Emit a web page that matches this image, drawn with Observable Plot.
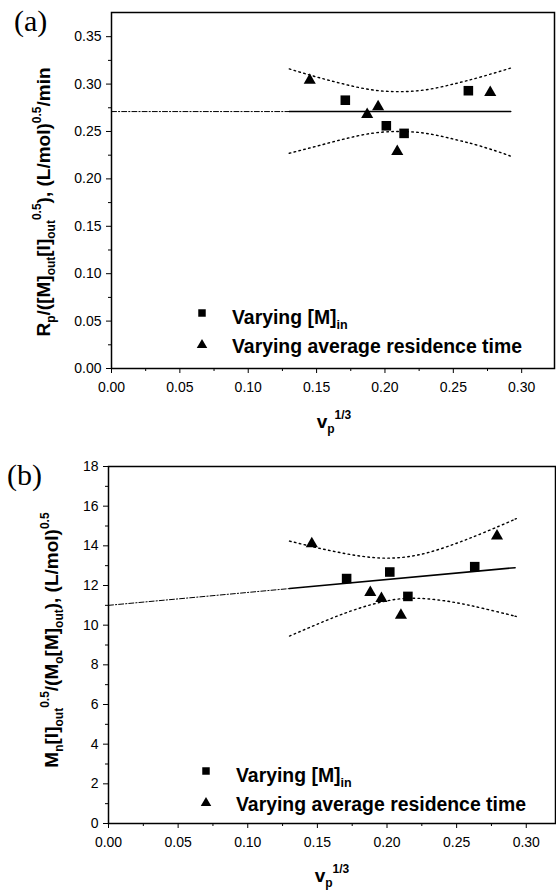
<!DOCTYPE html>
<html><head><meta charset="utf-8">
<script src="https://cdn.jsdelivr.net/npm/d3@7"></script>
<script src="https://cdn.jsdelivr.net/npm/@observablehq/plot@0.6"></script>
<style>
body{margin:0;background:#fff;}
#wrap{position:relative;width:556px;height:892px;overflow:hidden;background:#fff;}
.panel{position:absolute;left:0;}
</style></head><body>
<div id="wrap"><div id="pa" class="panel" style="top:0"></div><div id="pb" class="panel" style="top:440px"></div></div>
<script>
// ---- tick values ----
const xTicks = [0, 0.05, 0.10, 0.15, 0.20, 0.25, 0.30];
const xMinor = [0.025, 0.075, 0.125, 0.175, 0.225, 0.275];
const yTicksA = [0, 0.05, 0.10, 0.15, 0.20, 0.25, 0.30, 0.35];
const yMinorA = [0.025, 0.075, 0.125, 0.175, 0.225, 0.275, 0.325];
const yTicksB = [0, 2, 4, 6, 8, 10, 12, 14, 16, 18];
const yMinorB = [1, 3, 5, 7, 9, 11, 13, 15, 17];

// ---- panel (a) data ----
const sqA_x = [0.171, 0.201, 0.214, 0.261];
const sqA_y = [0.283, 0.256, 0.248, 0.293];
const trA_x = [0.145, 0.187, 0.195, 0.209, 0.277];
const trA_y = [0.304, 0.268, 0.276, 0.229, 0.291];
const extA_x = [0, 0.13];
const extA_y = [0.271, 0.271];
const fitA_x = [0.13, 0.292];
const fitA_y = [0.271, 0.271];
const bandA_x = [0.13, 0.15, 0.17, 0.19, 0.21, 0.23, 0.25, 0.27, 0.29, 0.292];
const bandA_hi = [0.316, 0.3075, 0.300, 0.294, 0.292, 0.294, 0.300, 0.3075, 0.316, 0.317];
const bandA_lo = [0.227, 0.2345, 0.242, 0.248, 0.250, 0.248, 0.242, 0.2345, 0.225, 0.223];

// ---- panel (b) data ----
const sqB_x = [0.171, 0.202, 0.215, 0.263];
const sqB_y = [12.35, 12.68, 11.45, 12.95];
const trB_x = [0.146, 0.188, 0.196, 0.210, 0.279];
const trB_y = [14.1, 11.65, 11.35, 10.5, 14.5];
const extB_x = [0, 0.13];
const extB_y = [11.0, 11.845];
const fitB_x = [0.13, 0.292];
const fitB_y = [11.845, 12.9];
const bandB_x = [0.13, 0.15, 0.17, 0.19, 0.21, 0.23, 0.25, 0.27, 0.29, 0.292];
const bandB_hi = [14.24, 13.90, 13.61, 13.41, 13.41, 13.67, 14.13, 14.68, 15.28, 15.35];
const bandB_lo = [9.45, 10.05, 10.61, 11.06, 11.33, 11.32, 11.13, 10.83, 10.49, 10.45];

const zip = (xs, ys) => xs.map((x, i) => ({x, y: ys[i]}));
const SANS = "'Liberation Sans', Arial, sans-serif";
const SERIF = "'Liberation Serif', 'Times New Roman', serif";

function panel({w, h, ml, mr, mt, mb, xmax, ydom, yTicks, yMinor, yFmt, sq, tr, ext, fit, hi, lo}) {
  return Plot.plot({
    width: w, height: h,
    marginLeft: ml, marginRight: mr, marginTop: mt, marginBottom: mb,
    x: {domain: [0, xmax]},
    y: {domain: ydom},
    style: {fontFamily: SANS, fontSize: "14px", color: "#000", background: "#fff", overflow: "visible"},
    marks: [
      Plot.axisX({ticks: xTicks, tickSize: 5, tickPadding: 9, tickFormat: d3.format(".2f"), label: null, fontSize: 14}),
      Plot.axisX({ticks: xMinor, tickSize: 3, tickFormat: () => "", label: null}),
      Plot.axisY({ticks: yTicks, tickSize: 5, tickPadding: 5, tickFormat: yFmt, label: null, fontSize: 14}),
      Plot.axisY({ticks: yMinor, tickSize: 3, tickFormat: () => "", label: null}),
      Plot.line(ext, {x: "x", y: "y", stroke: "#000", strokeWidth: 1, strokeDasharray: "5,2,1.2,2"}),
      Plot.line(fit, {x: "x", y: "y", stroke: "#000", strokeWidth: 1.5}),
      Plot.line(hi, {x: "x", y: "y", stroke: "#000", strokeWidth: 1.4, strokeDasharray: "1.6,3.4", curve: "natural"}),
      Plot.line(lo, {x: "x", y: "y", stroke: "#000", strokeWidth: 1.4, strokeDasharray: "1.6,3.4", curve: "natural"}),
      Plot.dot(sq, {x: "x", y: "y", symbol: "square", r: 5.4, fill: "#000", stroke: null}),
      Plot.dot(tr, {x: "x", y: "y", symbol: "triangle", r: 4.5, fill: "#000", stroke: null}),
      Plot.frame({stroke: "#000", strokeWidth: 1.5})
    ]
  });
}

function rich(sel, segs, {x, y, rotate = 0, size = 19, small = 12, anchor = "middle", weight = "bold", family = SANS}) {
  const t = sel.append("text")
    .attr("transform", `translate(${x},${y})` + (rotate ? ` rotate(${rotate})` : ""))
    .attr("text-anchor", anchor)
    .attr("font-family", family)
    .attr("font-weight", weight)
    .attr("fill", "#000");
  let cur = 0;
  for (const [s, k] of segs) {
    const off = k === "sub" ? 5 : k === "sup" ? -9 : 0;
    t.append("tspan").attr("dy", off - cur).attr("font-size", k === "n" ? size : small).text(s);
    cur = off;
  }
  return t;
}

function legend(svg, x, y1, y2, label1Segs) {
  const g = svg.append("g");
  g.append("path").attr("d", d3.symbol(d3.symbolSquare, 56)()).attr("transform", `translate(${x},${y1})`).attr("fill", "#000");
  g.append("path").attr("d", d3.symbol(d3.symbolTriangle, 48)()).attr("transform", `translate(${x},${y2})`).attr("fill", "#000");
  rich(g, label1Segs, {x: x + 30, y: y1 + 11, anchor: "start", size: 19.4, small: 12.5});
  rich(g, [["Varying average residence time", "n"]], {x: x + 30, y: y2 + 8, anchor: "start", size: 19.4});
}

function panelLabel(s, txt, x, y) {
  s.append("text").attr("x", x).attr("y", y).attr("text-anchor", "start")
    .attr("font-family", SERIF).attr("font-size", 30).attr("font-weight", "normal").attr("fill", "#000").text(txt);
}

// ---- panel (a) ----
const A = panel({
  w: 556, h: 440, ml: 111, mr: 2, mt: 12, mb: 72, xmax: 0.324, ydom: [0, 0.3755],
  yTicks: yTicksA, yMinor: yMinorA, yFmt: d3.format(".2f"),
  sq: zip(sqA_x, sqA_y), tr: zip(trA_x, trA_y),
  ext: zip(extA_x, extA_y), fit: zip(fitA_x, fitA_y),
  hi: zip(bandA_x, bandA_hi), lo: zip(bandA_x, bandA_lo)
});
document.getElementById("pa").appendChild(A);
{
  const s = d3.select(A);
  rich(s, [["v", "n"], ["p", "sub"], ["1/3", "sup"]], {x: 334, y: 428, size: 19, small: 12});
  rich(s, [["R", "n"], ["p", "sub"], ["/([M]", "n"], ["out", "sub"], ["[I]", "n"], ["out", "sub"], ["0.5", "sup"],
           ["), (L/mol)", "n"], ["0.5", "sup"], ["/min", "n"]],
       {x: 50, y: 202, rotate: -90, size: 19, small: 12});
  panelLabel(s, "(a)", 14, 31);
  legend(s, 202, 313, 345, [["Varying [M]", "n"], ["in", "sub"]]);
}

// ---- panel (b) ----
const B = panel({
  w: 556, h: 452, ml: 108, mr: 1, mt: 26, mb: 69, xmax: 0.321, ydom: [0, 18],
  yTicks: yTicksB, yMinor: yMinorB, yFmt: d3.format("d"),
  sq: zip(sqB_x, sqB_y), tr: zip(trB_x, trB_y),
  ext: zip(extB_x, extB_y), fit: zip(fitB_x, fitB_y),
  hi: zip(bandB_x, bandB_hi), lo: zip(bandB_x, bandB_lo)
});
document.getElementById("pb").appendChild(B);
{
  const s = d3.select(B);
  rich(s, [["v", "n"], ["p", "sub"], ["1/3", "sup"]], {x: 332, y: 442, size: 19, small: 12});
  rich(s, [["M", "n"], ["n", "sub"], ["[I]", "n"], ["out", "sub"], ["0.5", "sup"], ["/(M", "n"], ["o", "sub"],
           ["[M]", "n"], ["out", "sub"], ["), (L/mol)", "n"], ["0.5", "sup"]],
       {x: 58, y: 200, rotate: -90, size: 19, small: 12});
  panelLabel(s, "(b)", 7, 45);
  legend(s, 206, 331, 363, [["Varying [M]", "n"], ["in", "sub"]]);
}
</script>
</body></html>
